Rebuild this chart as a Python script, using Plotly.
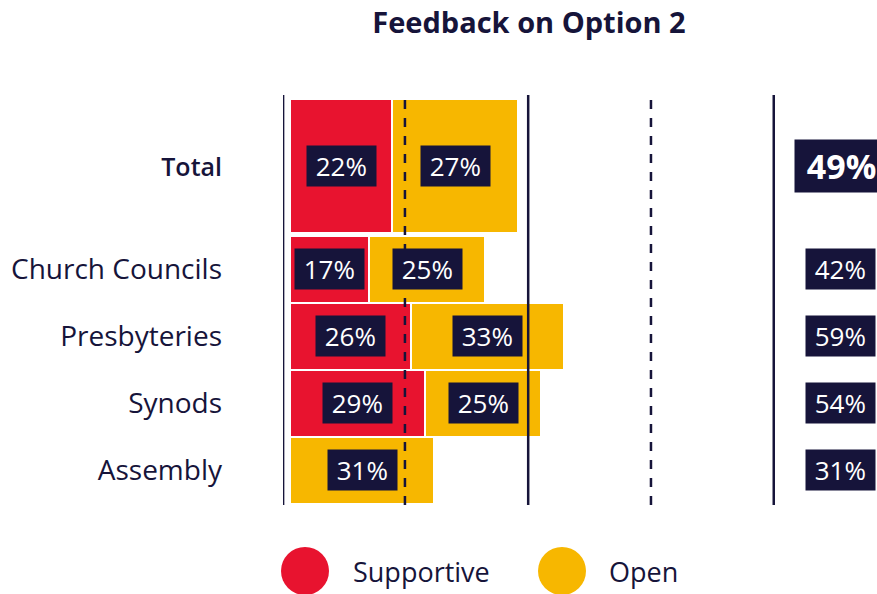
import plotly.graph_objects as go

categories = ["Total", "Church Councils", "Presbyteries", "Synods", "Assembly"]
supportive = [22, 17, 26, 29, 0]
open_vals = [27, 25, 33, 25, 31]
totals = [49, 42, 59, 54, 31]
row_pos = [4.54, 3.0, 2.0, 1.0, 0.0]
row_width = [2.0, 1.0, 1.0, 1.0, 1.0]
series_names = ["Supportive", "Open"]

RED = "#E8132F"
YELLOW = "#F7B700"
NAVY = "#16143A"
FONT = "Open Sans"

W, H = 877, 594
L, T, B = 283, 95, 89
PW, PH = W - L, H - T - B

fig = go.Figure()
fig.add_trace(go.Bar(y=row_pos, x=supportive, width=row_width, orientation="h",
                     marker=dict(color=RED, line=dict(color="white", width=2)),
                     name=series_names[0], showlegend=False, hoverinfo="skip"))
fig.add_trace(go.Bar(y=row_pos, x=open_vals, width=row_width, orientation="h",
                     marker=dict(color=YELLOW, line=dict(color="white", width=2)),
                     name=series_names[1], showlegend=False, hoverinfo="skip"))

NB = "&nbsp;"
label_font = dict(family=FONT, size=26, color="white")
annotations = []
for i, cat in enumerate(categories):
    big = cat == "Total"
    s, o = supportive[i], open_vals[i]
    if s > 0:
        annotations.append(dict(x=s / 2, y=row_pos[i], text=f"{NB}{s}%{NB}", showarrow=False,
                                font=label_font, bgcolor=NAVY, borderpad=2,
                                xref="x", yref="y"))
    if o > 0:
        annotations.append(dict(x=s + o / 2, y=row_pos[i], text=f"{NB}{o}%{NB}", showarrow=False,
                                font=label_font, bgcolor=NAVY, borderpad=2,
                                xref="x", yref="y"))
    if big:
        annotations.append(dict(x=108.4, y=row_pos[i], xanchor="left",
                                text=f"<b>{NB}{totals[i]}%</b>", showarrow=False,
                                font=dict(family=FONT, size=34, color="white"),
                                bgcolor=NAVY, borderpad=3, xref="x", yref="y"))
    else:
        annotations.append(dict(x=118.4, y=row_pos[i], text=f"{NB}{totals[i]}%{NB}",
                                showarrow=False, font=label_font,
                                bgcolor=NAVY, borderpad=2, xref="x", yref="y"))

# legend (circles + labels, placed in paper coordinates)
def px_to_paper_x(px):
    return (px - L) / PW

def px_to_paper_y(py):
    return (H - B - py) / PH

legend_cx = [305, 562]
legend_tx = [351, 607]
legend_colors = [RED, YELLOW]
leg_y = px_to_paper_y(571)
shapes = []
for cx, tx, col, name in zip(legend_cx, legend_tx, legend_colors, series_names):
    shapes.append(dict(type="circle", xref="paper", yref="paper",
                       xsizemode="pixel", ysizemode="pixel",
                       xanchor=px_to_paper_x(cx), yanchor=leg_y,
                       x0=-24, x1=24, y0=-24, y1=24,
                       fillcolor=col, line=dict(width=0)))
    annotations.append(dict(x=px_to_paper_x(tx), y=leg_y, text=name, showarrow=False,
                            xanchor="left", yanchor="middle",
                            font=dict(family=FONT, size=27, color=NAVY),
                            xref="paper", yref="paper"))

grid_x = [-1.5, 24.7, 51.2, 77.6, 104.0]
grid_dash = ["solid", "dash", "solid", "dash", "solid"]
for gx, dsh in zip(grid_x, grid_dash):
    shapes.append(dict(type="line", x0=gx, x1=gx, y0=-0.52, y1=5.6, xref="x", yref="y",
                       line=dict(color=NAVY, width=2.5, dash=dsh), layer="above"))

tick_text = ['<span style="font-size:25px;font-weight:600">Total</span>'] + categories[1:]

fig.update_layout(
    width=W, height=H,
    margin=dict(l=L, r=0, t=T, b=B),
    barmode="stack", bargap=0,
    plot_bgcolor="white", paper_bgcolor="white",
    title=dict(text="<b>Feedback on Option 2</b>", x=529 / W, xanchor="center",
               y=1 - 23 / H, yanchor="middle",
               font=dict(family=FONT, size=29, color=NAVY)),
    xaxis=dict(range=[-1.52, 126.2], showgrid=False, zeroline=False, showticklabels=False,
               fixedrange=True),
    yaxis=dict(range=[-0.52, 5.6], tickvals=row_pos, ticktext=tick_text,
               tickfont=dict(family=FONT, size=28, color=NAVY),
               showgrid=False, zeroline=False, ticks="", ticklabelstandoff=60,
               fixedrange=True),
    annotations=annotations, shapes=shapes,
)

fig.write_html("out.html", config={"displayModeBar": False},
               post_script="document.body.style.margin='0';document.body.style.overflow='hidden';")
